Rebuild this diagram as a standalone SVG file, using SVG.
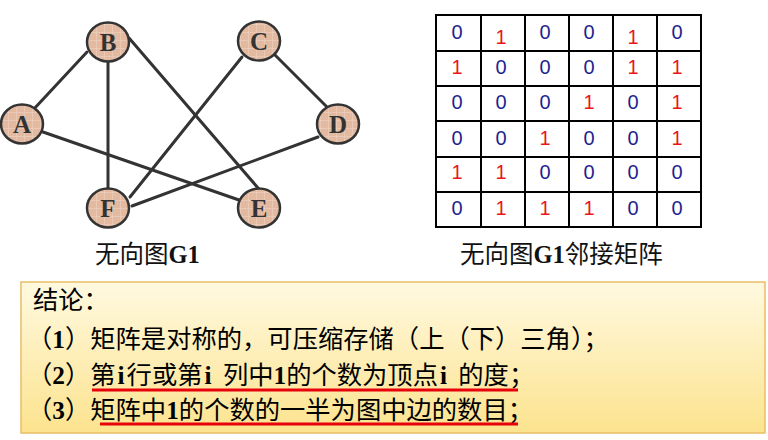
<svg xmlns="http://www.w3.org/2000/svg" width="768" height="440" viewBox="0 0 768 440">
<defs>
<linearGradient id="boxg" x1="0" y1="0" x2="0" y2="1">
<stop offset="0" stop-color="#FFF9E0"/>
<stop offset="1" stop-color="#FCE38E"/>
</linearGradient>
<pattern id="tex" width="8" height="8" patternUnits="userSpaceOnUse">
<rect width="8" height="8" fill="#E3B9A0"/>
<path d="M0 0.5H8M0.5 0V8" stroke="#EDD2C2" stroke-width="0.6"/>
</pattern>
</defs>
<style>
.edge{stroke:#333;stroke-width:3;fill:none;stroke-linecap:round}
.node ellipse{fill:url(#tex);stroke:#333;stroke-width:2.5}
.node text{font-family:"Liberation Serif",serif;font-weight:bold;font-size:25px;fill:#333;text-anchor:middle}
.grid line{stroke:#000;stroke-width:2}
.z{font-family:"Liberation Sans",Arial,sans-serif;font-size:20px;fill:#1F1F8F;text-anchor:middle}
.o{font-family:"Liberation Sans",Arial,sans-serif;font-size:20px;fill:#E8161C;text-anchor:middle}
.cap{font-family:"Liberation Serif","Noto Sans CJK SC",serif;font-size:24.5px;fill:#111}
.b{font-weight:bold}
.t{font-family:"Liberation Serif","Noto Sans CJK SC",serif;font-size:25.3px;fill:#000}
.ul{stroke:#E8000A;stroke-width:3}
</style>
<g id="connectors">
<line class="edge" x1="33" y1="110" x2="87" y2="52"/>
<line class="edge" x1="108" y1="61" x2="108" y2="192"/>
<line class="edge" x1="129" y1="38" x2="258" y2="188"/>
<line class="edge" x1="242" y1="57" x2="130" y2="197"/>
<line class="edge" x1="275" y1="55" x2="332" y2="112"/>
<line class="edge" x1="43" y1="132" x2="239" y2="200"/>
<line class="edge" x1="318" y1="137" x2="132" y2="206"/>
</g>
<g id="node-B" class="node"><ellipse cx="108" cy="42" rx="21" ry="19.5"/><text x="108" y="51">B</text></g>
<g id="node-C" class="node"><ellipse cx="259" cy="41" rx="21" ry="19.5"/><text x="259" y="50">C</text></g>
<g id="node-A" class="node"><ellipse cx="22" cy="124" rx="21" ry="19.5"/><text x="22" y="133">A</text></g>
<g id="node-D" class="node"><ellipse cx="338" cy="124" rx="21" ry="19.5"/><text x="338" y="133">D</text></g>
<g id="node-F" class="node"><ellipse cx="108" cy="208" rx="21" ry="19.5"/><text x="108" y="217">F</text></g>
<g id="node-E" class="node"><ellipse cx="259" cy="208" rx="21" ry="19.5"/><text x="259" y="217">E</text></g>
<text class="cap" x="95" y="263">无向图<tspan class="b">G1</tspan></text>
<g id="matrix">
<g class="grid">
<line x1="436" y1="15" x2="436" y2="227"/>
<line x1="481" y1="15" x2="481" y2="227"/>
<line x1="525" y1="15" x2="525" y2="227"/>
<line x1="569" y1="15" x2="569" y2="227"/>
<line x1="613" y1="15" x2="613" y2="227"/>
<line x1="657" y1="15" x2="657" y2="227"/>
<line x1="701" y1="15" x2="701" y2="227"/>
<line x1="435" y1="15" x2="702" y2="15"/>
<line x1="435" y1="51" x2="702" y2="51"/>
<line x1="435" y1="86" x2="702" y2="86"/>
<line x1="435" y1="121" x2="702" y2="121"/>
<line x1="435" y1="157" x2="702" y2="157"/>
<line x1="435" y1="192" x2="702" y2="192"/>
<line x1="435" y1="227" x2="702" y2="227"/>
</g>
<text class="z" x="457" y="39">0</text><text class="o" x="501" y="44">1</text><text class="z" x="545" y="39">0</text><text class="z" x="589" y="39">0</text><text class="o" x="633" y="44">1</text><text class="z" x="677" y="39">0</text>
<text class="o" x="457" y="74">1</text><text class="z" x="501" y="74">0</text><text class="z" x="545" y="74">0</text><text class="z" x="589" y="74">0</text><text class="o" x="633" y="74">1</text><text class="o" x="677" y="74">1</text>
<text class="z" x="457" y="109">0</text><text class="z" x="501" y="109">0</text><text class="z" x="545" y="109">0</text><text class="o" x="589" y="109">1</text><text class="z" x="633" y="109">0</text><text class="o" x="677" y="109">1</text>
<text class="z" x="457" y="145">0</text><text class="z" x="501" y="145">0</text><text class="o" x="545" y="145">1</text><text class="z" x="589" y="145">0</text><text class="z" x="633" y="145">0</text><text class="o" x="677" y="145">1</text>
<text class="o" x="457" y="179">1</text><text class="o" x="501" y="179">1</text><text class="z" x="545" y="179">0</text><text class="z" x="589" y="179">0</text><text class="z" x="633" y="179">0</text><text class="z" x="677" y="179">0</text>
<text class="z" x="457" y="215">0</text><text class="o" x="501" y="215">1</text><text class="o" x="545" y="215">1</text><text class="o" x="589" y="215">1</text><text class="z" x="633" y="215">0</text><text class="z" x="677" y="215">0</text>
</g>
<text class="cap" x="460" y="263">无向图<tspan class="b">G1</tspan>邻接矩阵</text>
<g id="conclusion">
<rect x="21" y="282" width="744" height="151" fill="url(#boxg)" stroke="#E9BE66" stroke-width="1.5"/>
<text class="t" x="33" y="309">结论：</text>
<text class="t" x="27" y="348">（<tspan class="b">1</tspan>）矩阵是对称的，可压缩存储（上（下）三角）；</text>
<text class="t" x="27" y="384">（<tspan class="b">2</tspan>）第<tspan class="b" dx="2">i</tspan><tspan dx="2">行或第</tspan><tspan class="b" dx="2">i </tspan><tspan dx="5">列中</tspan><tspan class="b">1</tspan>的个数为顶点<tspan class="b" dx="2">i </tspan><tspan dx="5">的度；</tspan></text>
<text class="t" x="27" y="419">（<tspan class="b">3</tspan>）矩阵中<tspan class="b">1</tspan>的个数的一半为图中边的数目；</text>
<line class="ul" x1="92" y1="390" x2="518" y2="390"/>
<line class="ul" x1="100" y1="424" x2="518" y2="424"/>
</g>
</svg>
